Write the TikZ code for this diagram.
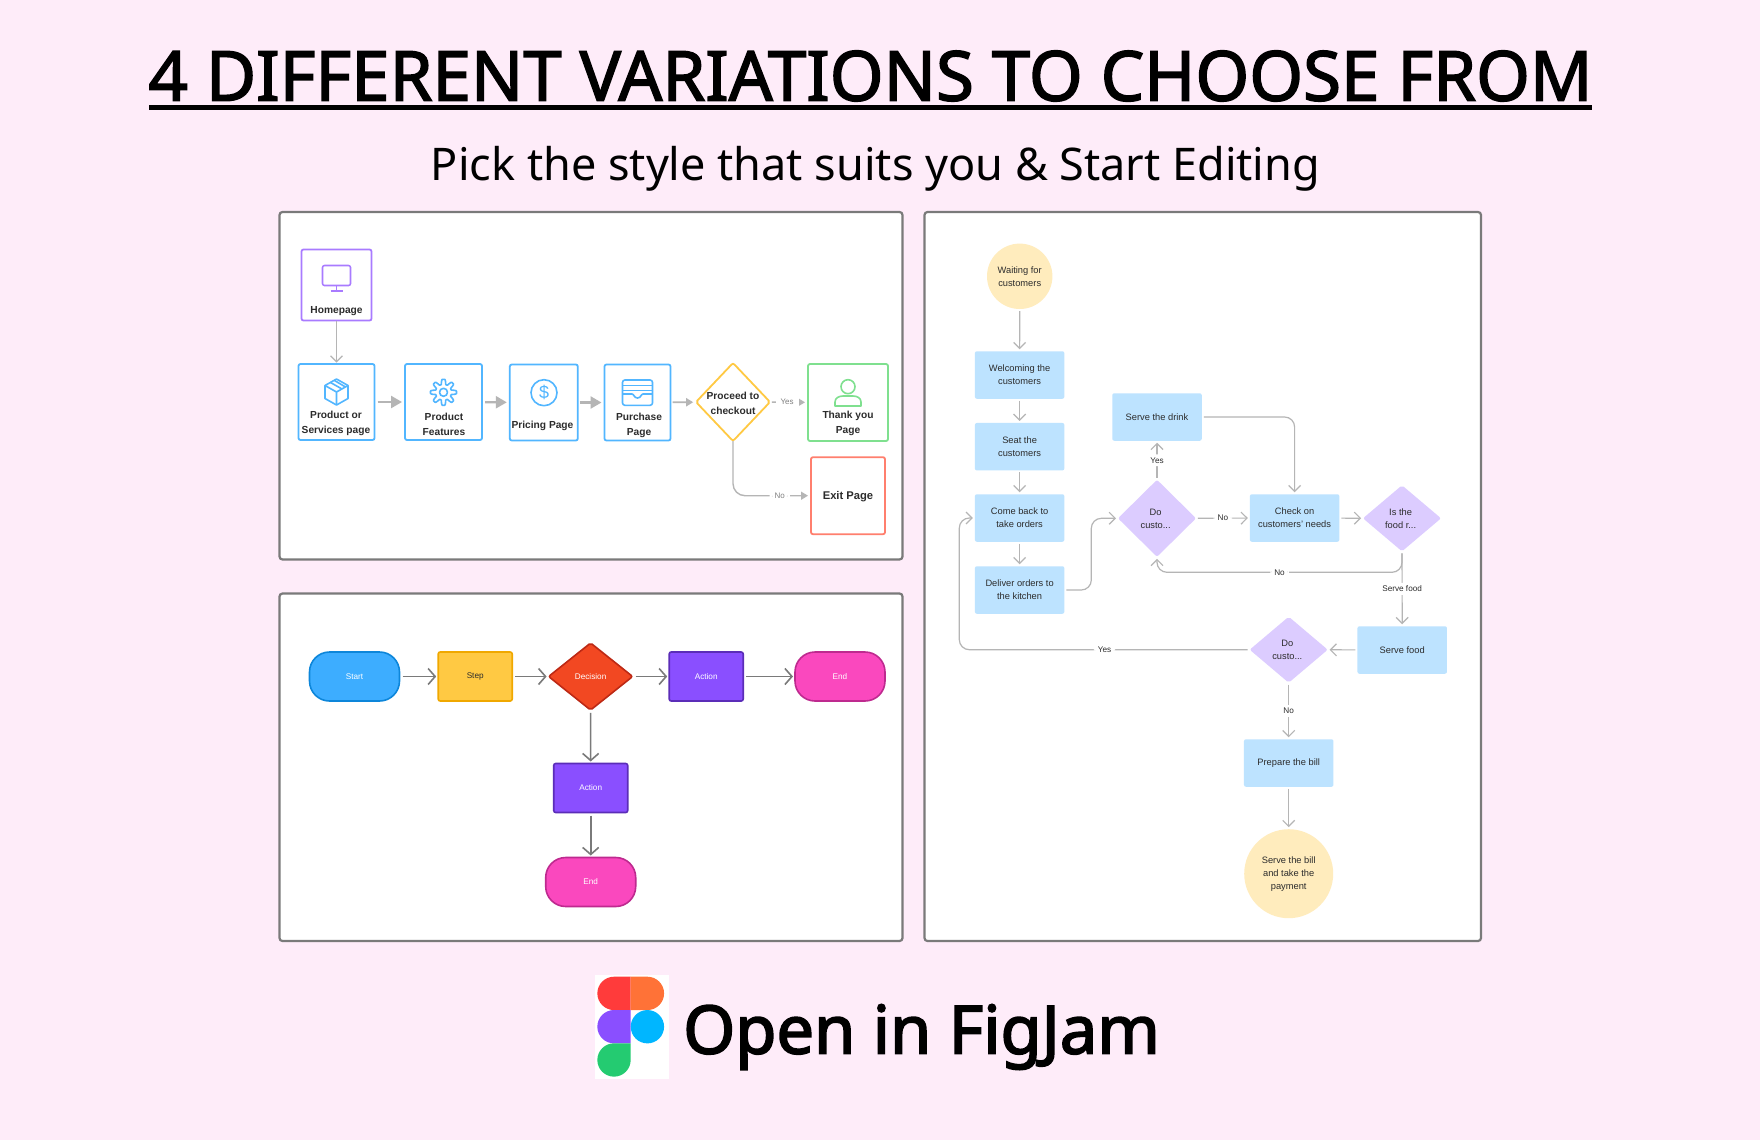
\documentclass[tikz,border=0pt]{standalone}
\usepackage{fontspec}
\setmainfont{Liberation Sans}
\newfontfamily\headfont{Noto Sans}
\newfontfamily\titlefont[FakeBold=2.2]{Noto Sans}
\newfontfamily\openfont[FakeBold=2.6]{Noto Sans}
\usepackage{tikz}
\usetikzlibrary{shapes.geometric,arrows.meta}

\definecolor{pagepink}{HTML}{FEECF9}
\definecolor{panelgray}{HTML}{7A7A7A}
\definecolor{linegray}{HTML}{B5B5B5}
\definecolor{darkline}{HTML}{7A7A7A}
\definecolor{inktext}{HTML}{2C2C2C}
\definecolor{wirepurple}{HTML}{A97BFF}
\definecolor{wireblue}{HTML}{52B6FF}
\definecolor{wireyellow}{HTML}{FFC943}
\definecolor{wiregreen}{HTML}{7FE08F}
\definecolor{wirered}{HTML}{FF7F6E}
\definecolor{softblue}{HTML}{BDE3FF}
\definecolor{softpurple}{HTML}{DCCCFF}
\definecolor{softyellow}{HTML}{FFECBD}
\definecolor{startblue}{HTML}{3DADFF}
\definecolor{startedge}{HTML}{0D86DA}
\definecolor{stepedge}{HTML}{F0A800}
\definecolor{decisionred}{HTML}{F24822}
\definecolor{decisionedge}{HTML}{BD2915}
\definecolor{actionviolet}{HTML}{8A4FFF}
\definecolor{actionedge}{HTML}{5B2DB8}
\definecolor{endpink}{HTML}{FA48BE}
\definecolor{endedge}{HTML}{BE2A8F}
\definecolor{logored}{HTML}{FF3B3B}
\definecolor{logoorange}{HTML}{FF7237}
\definecolor{logocyan}{HTML}{00B6FF}
\definecolor{logogreen}{HTML}{24CB71}

\tikzset{
  panelbox/.style = {draw=panelgray, fill=white, line width=1.1pt, rounded corners=1.5pt},
  anybox/.style = {inner sep=0pt, outer sep=0pt, align=center},
  % Top left panel
  wirebox/.style = {anybox, draw=#1, line width=0.9pt, rounded corners=1pt, fill=white},
  wirediamond/.style = {anybox, diamond, draw=wireyellow, line width=0.9pt, rounded corners=1pt, fill=white,
    minimum width=37pt, minimum height=39pt},
  wiretext/.style = {anybox, text=inktext, font=\fontsize{5.1}{7.5}\selectfont\bfseries},
  wireicon/.style = {line width=0.8pt, line join=round},
  solidflow/.style = {draw=linegray, line width=1.2pt, -{Triangle[length=5.5pt, width=6pt]}},
  thinflow/.style = {draw=linegray, line width=0.7pt, -{Triangle[length=3.5pt, width=4pt]}},
  wireflow/.style = {draw=linegray, line width=0.6pt, shorten >=0.7pt, -{Straight Barb[length=3pt, width=6pt]}},
  wirelabel/.style = {anybox, fill=white, inner xsep=2.5pt, inner ysep=1pt, text=gray, font=\fontsize{4}{5}\selectfont},
  % Bottom left panel
  solidbox/.style 2 args = {anybox, draw=#2, fill=#1, line width=0.8pt, rounded corners=1pt, minimum width=37pt,
    minimum height=24.5pt, text=white, font=\fontsize{4.1}{5}\selectfont},
  solidpill/.style 2 args = {solidbox={#1}{#2}, minimum width=45pt, rounded corners=10pt},
  soliddiamond/.style = {anybox, diamond, draw=decisionedge, fill=decisionred, line width=0.8pt, rounded corners=1pt,
    minimum width=42pt, minimum height=33.5pt, text=white, font=\fontsize{4.1}{5}\selectfont},
  darkflow/.style = {draw=darkline, line width=0.8pt, shorten <=1.5pt, shorten >=1pt,
    -{Straight Barb[length=3.5pt, width=8pt]}},
  % Right panel
  softbox/.style = {anybox, fill=softblue, rounded corners=1pt, minimum width=44.75pt, minimum height=23.75pt,
    text=inktext, font=\fontsize{4.65}{6.5}\selectfont},
  softdiamond/.style = {anybox, diamond, fill=softpurple, rounded corners=1pt, minimum width=39pt, minimum height=#1},
  softdiamond/.default = 33pt,
  softask/.style = {anybox, text=inktext, xshift=-0.7pt, yshift=-0.3pt, font=\fontsize{4.65}{6.5}\selectfont},
  softcircle/.style = {anybox, ellipse, fill=softyellow},
  softcircletext/.style = {anybox, text=inktext, yshift=-0.3pt, font=\fontsize{4.65}{6.5}\selectfont},
  softflow/.style = {draw=linegray, line width=0.6pt, rounded corners=5pt, shorten <=1pt, shorten >=1pt,
    -{Straight Barb[length=3pt, width=6pt]}},
  softlabel/.style = {anybox, fill=white, inner xsep=2pt, inner ysep=1.5pt, text=inktext, font=\fontsize{4.1}{5}\selectfont},
}

\begin{document}
\begin{tikzpicture}[x=0.5pt, y=-0.5pt]
  \useasboundingbox (0, 0) rectangle (1760, 1140);
  \fill [pagepink] (0, 0) rectangle (1760, 1140);

  % Headings
  \node [anybox, font=\titlefont\fontsize{34.5}{40}\selectfont] (title) at (870.5, 76) {4 DIFFERENT VARIATIONS TO CHOOSE FROM};
  \draw [line width=2.5pt] (149, 107) -- (1592, 107);
  \node [anybox, font=\headfont\fontsize{22.5}{28}\selectfont] (subtitle) at (875.5, 169) {Pick the style that suits you \& Start Editing};

  % Panels
  \draw [panelbox] (279.5, 212) rectangle (902.5, 559.5);
  \draw [panelbox] (279.5, 593.5) rectangle (902.5, 941);
  \draw [panelbox] (924.5, 212) rectangle (1481, 941);

  % Top left: boxes
  \node [wirebox=wirepurple, minimum width=35pt, minimum height=35.5pt] (homepage) at (336.5, 285) {};
  \node [wirebox=wireblue, minimum width=38pt, minimum height=38pt] (product) at (336.5, 402) {};
  \node [wirebox=wireblue, minimum width=38.5pt, minimum height=38pt] (features) at (443.5, 402) {};
  \node [wirebox=wireblue, minimum width=34pt, minimum height=38pt] (pricing) at (543.8, 402.5) {};
  \node [wirebox=wireblue, minimum width=33pt, minimum height=38pt] (purchase) at (637.5, 402.5) {};
  \node [wirediamond, label={[wiretext, yshift=-0.5pt]center:Proceed to\\checkout}] (checkout) at (733, 402) {};
  \node [wirebox=wiregreen, minimum width=40pt, minimum height=38.5pt] (thanks) at (848, 402.5) {};
  \node [wirebox=wirered, minimum width=37pt, minimum height=38.5pt] (exit) at (848, 495.7) {};

  % Top left: box texts
  \node [wiretext] (homepagetext) at (336.5, 311) {Homepage};
  \node [wiretext] (producttext) at (336, 423.5) {Product or\\Services page};
  \node [wiretext] (featurestext) at (444, 424.5) {Product\\Features};
  \node [wiretext] (pricingtext) at (542.5, 425.5) {Pricing Page};
  \node [wiretext] (purchasetext) at (639, 425.5) {Purchase\\Page};
  \node [wiretext] (thankstext) at (848, 423.5) {Thank you\\Page};
  \node [wiretext, font=\fontsize{5.6}{7.5}\selectfont\bfseries] (exittext) at (848, 496.5) {Exit Page};

  % Top left: icons
  \draw [wirepurple, wireicon, rounded corners=1pt] (322.5, 265.5) rectangle (350.5, 285.5);
  \draw [wirepurple, wireicon] (336.5, 285.5) -- (336.5, 291) (330.5, 291) -- (342.5, 291);
  \draw [wireblue, wireicon] (336.5, 379) -- (348, 385.5) -- (348, 398.5) -- (336.5, 405) -- (325, 398.5) -- (325, 385.5) -- cycle;
  \draw [wireblue, wireicon] (325, 385.5) -- (336.5, 392) -- (348, 385.5) (336.5, 392) -- (336.5, 405) (330.5, 382.5) -- (342, 389) (334.5, 380.5) -- (345.5, 387);
  \draw [wireblue, wireicon] plot [domain=0:360, samples=145, smooth] ({443.5+(10.5+2.5*max(-1,min(1,1.6*cos(8*\x))))*cos(\x)}, {392.3+(10.5+2.5*max(-1,min(1,1.6*cos(8*\x))))*sin(\x)});
  \draw [wireblue, wireicon] (443.5, 392.3) circle (4);
  \draw [wireblue, wireicon] (544, 392.7) circle (13);
  \node [anybox, text=wireblue, font=\fontsize{9}{10}\selectfont] (dollar) at (544, 392.7) {\$};
  \draw [wireblue, wireicon, rounded corners=1.2pt] (622.5, 380) rectangle (652.5, 405.3);
  \draw [wireblue, wireicon] (622.5, 385.5) -- (652.5, 385.5) (622.5, 390.5) -- (652.5, 390.5);
  \draw [wireblue, wireicon] (622.5, 394) -- (632, 394) .. controls (634, 394) and (634, 398) .. (637.5, 398) .. controls (641, 398) and (641, 394) .. (643, 394) -- (652.5, 394);
  \draw [wiregreen, wireicon] (848, 386.7) circle (7);
  \draw [wiregreen, wireicon] (835, 406) -- (861, 406) -- (861, 402) .. controls (861, 398) and (857, 396) .. (853, 396) -- (843, 396) .. controls (839, 396) and (835, 398) .. (835, 402) -- cycle;

  % Top left: arrows
  \draw [wireflow] (homepage) -- (product);
  \draw [solidflow, shorten <=1.5pt, shorten >=1.5pt] (product) -- (features);
  \draw [solidflow, shorten <=1.5pt, shorten >=1.5pt] (features) -- (pricing);
  \draw [solidflow, shorten <=1pt, shorten >=1.5pt] (pricing) -- (purchase);
  \draw [thinflow, line width=0.9pt, shorten <=1pt, shorten >=1.5pt] (purchase) -- (checkout);
  \draw [thinflow, shorten <=1pt, shorten >=1.5pt] (checkout) -- node [wirelabel, pos=0.45] (yeslabel) {Yes} (thanks);
  \draw [thinflow, rounded corners=6pt, shorten >=1.5pt] (checkout) |- node [wirelabel, pos=0.8] (nolabel) {No} (exit);

  % Bottom left: shapes
  \node [solidpill={startblue}{startedge}] (start) at (354.5, 676.5) {Start};
  \node [solidbox={wireyellow}{stepedge}, text=inktext] (stepbox) at (475.2, 676.5) {Step};
  \node [soliddiamond] (decision) at (590.6, 676.5) {\makebox[0pt]{Decision}};
  \node [solidbox={actionviolet}{actionedge}] (action) at (706.2, 676.5) {Action};
  \node [solidpill={endpink}{endedge}] (finish) at (840, 676.5) {End};
  \node [solidbox={actionviolet}{actionedge}] (actionlow) at (590.7, 788) {Action};
  \node [solidpill={endpink}{endedge}] (finishlow) at (590.7, 882) {End};

  % Bottom left: arrows
  \draw [darkflow] (start) -- (stepbox);
  \draw [darkflow] (stepbox) -- (decision);
  \draw [darkflow] (decision) -- (action);
  \draw [darkflow] (action) -- (finish);
  \draw [darkflow] (decision) -- (actionlow);
  \draw [darkflow] (actionlow) -- (finishlow);

  % Right: shapes
  \node [softcircle, minimum width=32.7pt, minimum height=32.7pt] (waiting) at (1019.7, 276.3) {};
  \node [softbox] (welcome) at (1019.6, 375) {Welcoming the\\customers};
  \node [softbox] (seat) at (1019.6, 446.7) {Seat the\\customers};
  \node [softbox] (comeback) at (1019.6, 518) {Come back to\\take orders};
  \node [softbox] (deliver) at (1019.6, 590) {Deliver orders to\\the kitchen};
  \node [softbox] (drink) at (1157, 417) {Serve the drink};
  \node [softdiamond=38.5pt, label={[softask]center:Do\\custo...}] (drinkask) at (1157, 518.3) {};
  \node [softbox] (check) at (1294.6, 518) {Check on\\customers' needs};
  \node [softdiamond, label={[softask]center:Is the\\food r...}] (ready) at (1402, 518.3) {};
  \node [softbox] (servefood) at (1402.2, 650) {Serve food};
  \node [softdiamond, label={[softask]center:Do\\custo...}] (moreask) at (1288.7, 649.7) {};
  \node [softbox] (bill) at (1288.7, 763) {Prepare the bill};
  \node [softcircle, minimum width=44.5pt, minimum height=44.5pt] (payment) at (1288.7, 873.7) {};
  \node [softcircletext] (waitingtext) at (waiting) {Waiting for\\customers};
  \node [softcircletext] (paymenttext) at (payment) {Serve the bill\\and take the\\payment};

  % Right: bends
  \coordinate (deliverbendlow) at (1091.3, 590);
  \coordinate (deliverbendhigh) at (1091.3, 518.3);
  \coordinate (readybend) at (1157, 572.3);
  \coordinate (backbendlow) at (959.3, 649.7);
  \coordinate (backbendhigh) at (959.3, 518);

  % Right: arrows
  \draw [softflow] (waiting) -- (welcome);
  \draw [softflow] (welcome) -- (seat);
  \draw [softflow] (seat) -- (comeback);
  \draw [softflow] (comeback) -- (deliver);
  \draw [softflow] (deliver) -- (deliverbendlow) -- (deliverbendhigh) -- (drinkask);
  \draw [softflow] (drinkask) -- node [softlabel] (drinkyes) {Yes} (drink);
  \draw [softflow] (drinkask) -- node [softlabel] (drinkno) {No} (check);
  \draw [softflow] (drink) -| (check);
  \draw [softflow] (check) -- (ready);
  \draw [softflow] (ready) |- node [softlabel, pos=0.75] (readyno) {No} (readybend) -- (drinkask);
  \draw [softflow] (ready) -- node [softlabel] (readyyes) {Serve food} (servefood);
  \draw [softflow] (servefood) -- (moreask);
  \draw [softflow] (moreask) -- node [softlabel] (moreyes) {Yes} (backbendlow) -- (backbendhigh) -- (comeback);
  \draw [softflow] (moreask) -- node [softlabel] (moreno) {No} (bill);
  \draw [softflow] (bill) -- (payment);

  % Logo
  \fill [white] (594.7, 975) rectangle (668.7, 1078.7);
  \fill [logored] (630.7, 976.7) -- (614, 976.7) arc (-90:-270:16.67) -- (630.7, 1010) -- cycle;
  \fill [logoorange] (630.7, 976.7) -- (647.4, 976.7) arc (-90:90:16.67) -- (630.7, 1010) -- cycle;
  \fill [actionviolet] (630.7, 1010) -- (614, 1010) arc (-90:-270:16.67) -- (630.7, 1043.3) -- cycle;
  \fill [logocyan] (647.4, 1026.7) circle (16.67);
  \fill [logogreen] (630.7, 1043.3) -- (614, 1043.3) arc (-90:-360:16.67) -- cycle;
  \node [anybox, font=\openfont\fontsize{33.4}{40}\selectfont] (openin) at (921.5, 1037) {Open in FigJam};
\end{tikzpicture}
\end{document}
